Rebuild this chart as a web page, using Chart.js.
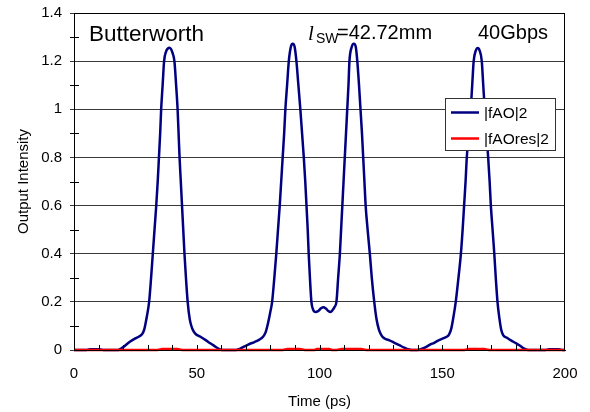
<!DOCTYPE html>
<html>
<head>
<meta charset="utf-8">
<script src="https://cdn.jsdelivr.net/npm/chart.js@4.4.1/dist/chart.umd.min.js"></script>
<style>
  html, body { margin: 0; padding: 0; background: #fff; }
</style>
</head>
<body>
<canvas id="myChart" width="590" height="412"></canvas>
<script>
// time axis (ps) and |fAO|^2
const timePs = [
  0, 5, 6.5, 10.5, 12, 18, 19.5, 21, 22.9, 25, 26.5, 27.6, 28.6, 29.6, 30.6, 31.4, 32.1, 32.8, 33.5, 34.1,
  34.6, 35.1, 35.5, 36.1, 36.7, 37.5, 38.2, 38.8, 39.4, 40.1, 40.9, 41.6, 42.2, 42.6, 43.0, 43.5, 44.0, 44.5, 45.0, 45.6,
  46.3, 47.2, 48.2, 49.4, 51.5, 53.5, 55.5, 57, 59, 60.3, 66,
  67.5, 69.5, 71.5, 73.5, 75.5, 77, 78, 79, 79.9, 80.7, 81.6, 82.4, 83.1, 83.8, 84.4, 85.0, 85.6, 86.1, 86.8, 87.5,
  88.3, 89.1, 89.9, 90.6, 91.4, 92.2, 92.9, 93.6, 94.2, 94.7, 95.2, 95.6, 96.1, 96.7, 97.4, 98.4, 99.5, 100.6, 101.6, 102.6,
  103.6, 104.5, 105.4, 106.1, 106.9, 107.6, 108.3, 108.8, 109.3, 109.8, 110.3, 110.8, 111.3, 111.8, 112.2, 113.1, 114.0, 114.8, 115.4, 116.1,
  116.7, 117.3, 117.8, 118.3, 118.8, 119.6, 120.5, 121.3, 122.3, 123.2, 124.2, 125.3, 126.5, 128.5, 130.5, 132.5, 134.5, 136.5, 137.5,
  140, 141.5, 143.3, 145, 146.7, 148.5, 150.1, 151.8, 152.8, 153.7, 154.6, 155.5, 156.6, 157.6, 158.3, 158.9, 159.5, 160.0, 160.8, 161.6,
  162.2, 162.8, 163.7, 164.4, 165.2, 166.1, 166.7, 167.3, 168.0, 168.7, 169.3, 169.8, 170.5, 171.2, 171.8, 172.5, 173.3, 174.0, 174.8, 176.5,
  178, 179.7, 181.4, 183, 184.5, 186, 192, 193.5, 197.5, 199, 200
];
const fAO = [
  0, 0, 0.003, 0.003, 0, 0, 0.008, 0.02, 0.035, 0.048, 0.056, 0.064, 0.085, 0.135, 0.2, 0.3, 0.4, 0.5, 0.6, 0.7,
  0.8, 0.9, 1.0, 1.1, 1.2, 1.24, 1.252, 1.256, 1.252, 1.235, 1.2, 1.1, 1.0, 0.9, 0.8, 0.7, 0.6, 0.5, 0.4, 0.3,
  0.2, 0.125, 0.088, 0.068, 0.055, 0.042, 0.028, 0.018, 0.005, 0, 0,
  0.005, 0.015, 0.025, 0.033, 0.043, 0.055, 0.072, 0.11, 0.155, 0.2, 0.3, 0.4, 0.5, 0.6, 0.7, 0.8, 0.9, 1.0, 1.1, 1.2,
  1.258, 1.272, 1.258, 1.2, 1.1, 1.0, 0.9, 0.8, 0.7, 0.6, 0.5, 0.4, 0.3, 0.2, 0.168, 0.158, 0.162, 0.173, 0.178, 0.172,
  0.162, 0.158, 0.167, 0.178, 0.2, 0.3, 0.4, 0.5, 0.6, 0.7, 0.8, 0.9, 1.0, 1.1, 1.2, 1.258, 1.272, 1.258, 1.2, 1.1,
  1.0, 0.9, 0.8, 0.7, 0.6, 0.5, 0.4, 0.3, 0.2, 0.13, 0.085, 0.06, 0.048, 0.04, 0.03, 0.02, 0.01, 0.002, 0,
  0, 0.004, 0.012, 0.022, 0.03, 0.04, 0.047, 0.055, 0.065, 0.09, 0.14, 0.2, 0.3, 0.4, 0.5, 0.6, 0.7, 0.8, 0.9, 1.0,
  1.1, 1.2, 1.245, 1.255, 1.245, 1.2, 1.1, 1.0, 0.9, 0.8, 0.7, 0.6, 0.5, 0.4, 0.3, 0.2, 0.13, 0.085, 0.062, 0.05,
  0.04, 0.03, 0.02, 0.008, 0.001, 0, 0, 0.003, 0.003, 0, 0
];

// residual |fAOres|^2, flat near zero
const resTimePs = [0, 34, 36, 42, 44, 85, 87, 92, 94, 98, 99, 104, 105, 107, 109, 117, 119, 159, 161, 167, 169, 200];
const fAOres = [0, 0, 0.004, 0.004, 0, 0, 0.004, 0.004, 0, 0, 0.004, 0.004, 0, 0, 0.004, 0.004, 0, 0, 0.004, 0.004, 0, 0];

const seriesLabels = ['|fAO|2', '|fAOres|2'];
const seriesColors = ['#000080', '#ff0000'];
const xTicks = [0, 50, 100, 150, 200];

const FONT = "'Liberation Sans', Arial, sans-serif";

const toPoints = (xs, ys) => xs.map((x, i) => ({ x: x, y: ys[i] }));

const extras = {
  id: 'extras',
  afterDraw(chart) {
    const { ctx, chartArea: a, scales: { x, y } } = chart;
    ctx.save();
    // frame
    ctx.strokeStyle = '#000';
    ctx.lineWidth = 1;
    ctx.strokeRect(a.left + 0.5, a.top + 0.5, a.right - a.left - 1, a.bottom - a.top);
    // minor ticks
    ctx.beginPath();
    for (let t = 10; t < 200; t += 10) {
      const px = Math.round(x.getPixelForValue(t)) + 0.5;
      ctx.moveTo(px, a.bottom);
      ctx.lineTo(px, a.bottom - 5);
    }
    for (let v = 0.1; v < 1.4; v += 0.2) {
      const py = Math.round(y.getPixelForValue(v)) + 0.5;
      ctx.moveTo(a.left - 4, py);
      ctx.lineTo(a.left + 5, py);
    }
    ctx.stroke();

    // annotations
    ctx.fillStyle = '#000';
    ctx.textBaseline = 'alphabetic';
    ctx.textAlign = 'left';
    ctx.font = '22.5px ' + FONT;
    ctx.fillText('Butterworth', 89, 41);
    ctx.font = 'italic 21px "Liberation Serif", "Times New Roman", serif';
    ctx.fillText('l', 308, 40);
    ctx.font = '14px ' + FONT;
    ctx.fillText('SW', 316, 43);
    ctx.font = '20px ' + FONT;
    ctx.fillText('=42.72mm', 337, 38.5);
    ctx.fillText('40Gbps', 478, 38.5);

    // legend box
    const bx = 445, by = 98, bw = 110, bh = 52;
    ctx.fillStyle = '#fff';
    ctx.fillRect(bx, by, bw, bh);
    ctx.strokeStyle = '#333';
    ctx.strokeRect(bx + 0.5, by + 0.5, bw, bh);
    const rows = [112.5, 138.5];
    ctx.font = '15.5px ' + FONT;
    ctx.textBaseline = 'middle';
    rows.forEach((ry, i) => {
      ctx.strokeStyle = seriesColors[i];
      ctx.lineWidth = 2.5;
      ctx.beginPath();
      ctx.moveTo(451, ry);
      ctx.lineTo(479, ry);
      ctx.stroke();
      ctx.fillStyle = '#000';
      ctx.fillText(chart.data.datasets[i].label, 484, ry + 1);
    });
    ctx.restore();
  }
};

const data = {
  datasets: [
    {
      label: seriesLabels[0],
      data: toPoints(timePs, fAO),
      borderColor: seriesColors[0],
      borderWidth: 2.5,
      pointRadius: 0,
      cubicInterpolationMode: 'monotone',
      clip: false,
      order: 1
    },
    {
      label: seriesLabels[1],
      data: toPoints(resTimePs, fAOres),
      borderColor: seriesColors[1],
      borderWidth: 2.5,
      pointRadius: 0,
      clip: false,
      order: 0
    }
  ]
};

const config = {
  type: 'line',
  data: data,
  options: {
    responsive: false,
    animation: false,
    layout: { padding: { left: 0, right: 25, top: 13, bottom: 0 } },
    plugins: {
      legend: { display: false },
      tooltip: { enabled: false }
    },
    scales: {
      x: {
        type: 'linear',
        min: 0,
        max: 200,
        afterBuildTicks: s => { s.ticks = xTicks.map(v => ({ value: v })); },
        afterFit: s => { s.height = 62; s.paddingLeft = 0; s.paddingRight = 0; },
        grid: { display: false, drawTicks: false },
        border: { display: true, color: '#000', width: 1 },
        ticks: { color: '#000', font: { family: FONT, size: 15 }, padding: 15, maxRotation: 0 },
        title: { display: true, text: 'Time (ps)', color: '#000', font: { family: FONT, size: 15 }, padding: { top: 0, bottom: 1.5 } }
      },
      y: {
        min: 0,
        max: 1.4,
        afterFit: s => { s.width = 74; s.paddingTop = 0; s.paddingBottom = 0; },
        ticks: {
          stepSize: 0.2,
          color: '#000',
          font: { family: FONT, size: 15 },
          padding: 8,
          callback: v => String(Number(v.toFixed(1)))
        },
        grid: { color: '#3a3a3a', lineWidth: 1, drawTicks: true, tickLength: 4 },
        border: { display: true, color: '#000', width: 1 },
        title: { display: true, text: 'Output Intensity', color: '#000', font: { family: FONT, size: 15 }, padding: { top: 15, bottom: 0 } }
      }
    }
  },
  plugins: [extras]
};

const myChart = new Chart(document.getElementById('myChart'), config);
</script>
</body>
</html>
